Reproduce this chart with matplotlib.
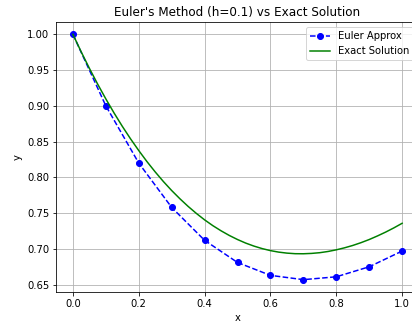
import matplotlib
matplotlib.use("Agg")
import matplotlib.pyplot as plt

# Euler approximation, h = 0.1
x_euler = [0.0, 0.1, 0.2, 0.3, 0.4, 0.5, 0.6, 0.7, 0.8, 0.9, 1.0]
y_euler = [1.0, 0.9, 0.82, 0.758, 0.712, 0.681, 0.663, 0.657, 0.661, 0.675, 0.697]

# exact solution
x_exact = [0.0, 0.025, 0.05, 0.075, 0.1, 0.125, 0.15, 0.175, 0.2, 0.225, 0.25,
           0.275, 0.3, 0.325, 0.35, 0.375, 0.4, 0.425, 0.45, 0.475, 0.5,
           0.525, 0.55, 0.575, 0.6, 0.625, 0.65, 0.675, 0.7, 0.725, 0.75,
           0.775, 0.8, 0.825, 0.85, 0.875, 0.9, 0.925, 0.95, 0.975, 1.0]
y_exact = [1.0, 0.9756, 0.9525, 0.9305, 0.9097, 0.8900, 0.8714, 0.8539, 0.8375,
           0.8220, 0.8076, 0.7941, 0.7816, 0.7701, 0.7594, 0.7496, 0.7406,
           0.7325, 0.7253, 0.7188, 0.7131, 0.7081, 0.7039, 0.7004, 0.6976,
           0.6955, 0.6941, 0.6933, 0.6932, 0.6937, 0.6947, 0.6964, 0.6987,
           0.7015, 0.7048, 0.7087, 0.7131, 0.7181, 0.7235, 0.7294, 0.7358]

dpi = 72
fig = plt.figure(figsize=(412 / dpi, 324 / dpi), dpi=dpi)
ax = fig.add_axes([0.137, 0.099, 0.879, 0.833])

ax.plot(x_euler, y_euler, "bo--", label="Euler Approx")
ax.plot(x_exact, y_exact, "g-", label="Exact Solution")

ax.set_title("Euler's Method (h=0.1) vs Exact Solution")
ax.set_xlabel("x")
ax.set_ylabel("y")
ax.legend(loc="upper right")
ax.grid(True)

fig.savefig("out.png", dpi=dpi)
